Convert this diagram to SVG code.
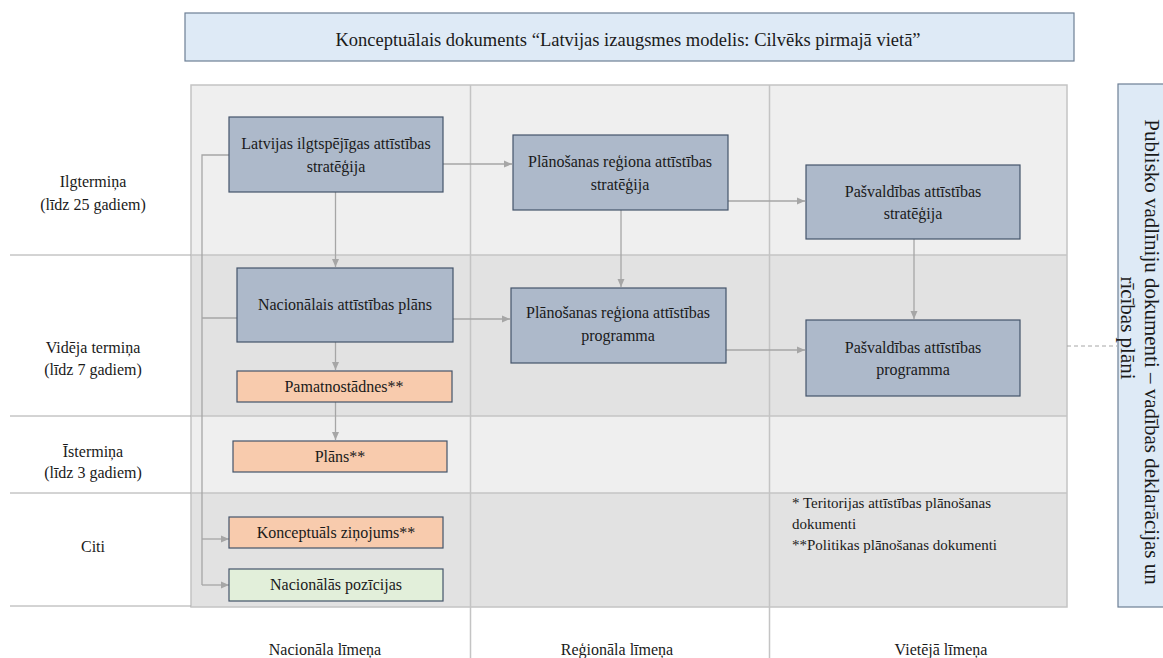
<svg xmlns="http://www.w3.org/2000/svg" width="1163" height="658" viewBox="0 0 1163 658" font-family="'Liberation Serif', 'Times New Roman', serif">
  <style>
    text { font-family: "Liberation Serif", "Times New Roman", serif; fill: #1a1a1a; }
    .t16 { font-size: 16px; }
    .t15 { font-size: 15px; }
    .mid { text-anchor: middle; }
    .band-light { fill: #efefef; }
    .band-dark { fill: #e2e2e2; }
    .grid { stroke: #c4c4c4; stroke-width: 1.5; fill: none; }
    .rule { stroke: #a8a8a8; stroke-width: 1; fill: none; }
    .doc { fill: #adb9ca; stroke: #44546a; stroke-width: 1.2; }
    .policy { fill: #f8cbad; stroke: #44546a; stroke-width: 1.2; }
    .position { fill: #e2efda; stroke: #44546a; stroke-width: 1.2; }
    .frame { fill: #deeaf6; stroke: #6d7f95; stroke-width: 1.2; }
    .link { stroke: #a6a6a6; stroke-width: 1.3; fill: none; }
    .arrow { marker-end: url(#head); }
    .dashed { stroke: #a6a6a6; stroke-width: 1; stroke-dasharray: 4 3; fill: none; }
  </style>
  <defs>
    <marker id="head" markerWidth="9" markerHeight="9" refX="8" refY="4.5" orient="auto" markerUnits="userSpaceOnUse">
      <path d="M0,1 L8,4.5 L0,8 Z" fill="#a6a6a6"/>
    </marker>
  </defs>

  <rect width="1163" height="658" fill="#ffffff"/>

  <!-- top banner -->
  <g id="banner">
    <rect class="frame" x="185" y="13" width="889" height="48"/>
    <text class="mid" x="628" y="46" style="font-size:18.5px">Konceptuālais dokuments “Latvijas izaugsmes modelis: Cilvēks pirmajā vietā”</text>
  </g>

  <!-- time-horizon bands -->
  <g id="bands">
    <rect class="band-light" x="191" y="85" width="876" height="170"/>
    <rect class="band-dark" x="191" y="255" width="876" height="161"/>
    <rect class="band-light" x="191" y="416" width="876" height="77"/>
    <rect class="band-dark" x="191" y="493" width="876" height="114"/>
    <rect class="grid" x="191" y="85" width="876" height="522"/>
    <line class="grid" x1="191" y1="255" x2="1067" y2="255"/>
    <line class="grid" x1="191" y1="416" x2="1067" y2="416"/>
    <line class="grid" x1="191" y1="493" x2="1067" y2="493"/>
    <line class="grid" x1="470.5" y1="85" x2="470.5" y2="658"/>
    <line class="grid" x1="769.5" y1="85" x2="769.5" y2="658"/>
    <line class="rule" x1="10" y1="255" x2="191" y2="255"/>
    <line class="rule" x1="10" y1="416" x2="191" y2="416"/>
    <line class="rule" x1="10" y1="493" x2="191" y2="493"/>
    <line class="rule" x1="10" y1="606" x2="191" y2="606"/>
  </g>

  <!-- row labels -->
  <g id="row-labels" class="t16">
    <text class="mid" x="93" y="187">Ilgtermiņa</text>
    <text class="mid" x="93" y="210">(līdz 25 gadiem)</text>
    <text class="mid" x="93" y="353">Vidēja termiņa</text>
    <text class="mid" x="93" y="375">(līdz 7 gadiem)</text>
    <text class="mid" x="93" y="457">Īstermiņa</text>
    <text class="mid" x="93" y="478">(līdz 3 gadiem)</text>
    <text class="mid" x="93" y="552">Citi</text>
  </g>

  <!-- column labels -->
  <g id="column-labels" class="t16">
    <text class="mid" x="325" y="655">Nacionāla līmeņa</text>
    <text class="mid" x="617" y="655">Reģionāla līmeņa</text>
    <text class="mid" x="941" y="655">Vietējā līmeņa</text>
  </g>

  <!-- connectors -->
  <g id="connectors">
    <polyline class="link" points="229,155 202,155 202,585"/>
    <line class="link" x1="202" y1="318" x2="237" y2="318"/>
    <line class="link arrow" x1="202" y1="539" x2="229" y2="539"/>
    <line class="link arrow" x1="202" y1="585" x2="229" y2="585"/>
    <line class="link arrow" x1="335.5" y1="192" x2="335.5" y2="267"/>
    <line class="link arrow" x1="335.5" y1="342" x2="335.5" y2="370"/>
    <line class="link arrow" x1="335.5" y1="402" x2="335.5" y2="440"/>
    <line class="link arrow" x1="443" y1="164" x2="512" y2="164"/>
    <line class="link arrow" x1="453" y1="319" x2="510" y2="319"/>
    <line class="link arrow" x1="621" y1="210" x2="621" y2="287"/>
    <line class="link arrow" x1="728" y1="201" x2="805" y2="201"/>
    <line class="link arrow" x1="726" y1="350" x2="805" y2="350"/>
    <line class="link arrow" x1="914" y1="239" x2="914" y2="319"/>
    <line class="dashed" x1="1067" y1="346" x2="1117" y2="346"/>
  </g>

  <!-- national level -->
  <g id="latvijas-strategija">
    <rect class="doc" x="229" y="117" width="214" height="75"/>
    <text class="t16 mid" x="336" y="149">Latvijas ilgtspējīgas attīstības</text>
    <text class="t16 mid" x="336" y="172">stratēģija</text>
  </g>
  <g id="nacionalais-plans">
    <rect class="doc" x="237" y="268" width="216" height="74"/>
    <text class="t16 mid" x="345" y="310">Nacionālais attīstības plāns</text>
  </g>
  <g id="pamatnostadnes">
    <rect class="policy" x="237" y="371" width="215" height="31"/>
    <text class="t16 mid" x="344" y="392">Pamatnostādnes**</text>
  </g>
  <g id="plans">
    <rect class="policy" x="233" y="441" width="214" height="31"/>
    <text class="t16 mid" x="340" y="462">Plāns**</text>
  </g>
  <g id="konceptuals-zinojums">
    <rect class="policy" x="229" y="517" width="214" height="31"/>
    <text class="t16 mid" x="336" y="538">Konceptuāls ziņojums**</text>
  </g>
  <g id="nacionalas-pozicijas">
    <rect class="position" x="229" y="569" width="214" height="32"/>
    <text class="t16 mid" x="336" y="590">Nacionālās pozīcijas</text>
  </g>

  <!-- regional level -->
  <g id="regiona-strategija">
    <rect class="doc" x="513" y="135" width="215" height="75"/>
    <text class="t16 mid" x="620" y="167">Plānošanas reģiona attīstības</text>
    <text class="t16 mid" x="620" y="190">stratēģija</text>
  </g>
  <g id="regiona-programma">
    <rect class="doc" x="511" y="288" width="215" height="75"/>
    <text class="t16 mid" x="618" y="318">Plānošanas reģiona attīstības</text>
    <text class="t16 mid" x="618" y="341">programma</text>
  </g>

  <!-- local level -->
  <g id="pasvaldibas-strategija">
    <rect class="doc" x="806" y="165" width="214" height="74"/>
    <text class="t16 mid" x="913" y="197">Pašvaldības attīstības</text>
    <text class="t16 mid" x="913" y="219">stratēģija</text>
  </g>
  <g id="pasvaldibas-programma">
    <rect class="doc" x="806" y="320" width="214" height="76"/>
    <text class="t16 mid" x="913" y="353">Pašvaldības attīstības</text>
    <text class="t16 mid" x="913" y="375">programma</text>
  </g>

  <!-- legend -->
  <g id="legend" class="t15">
    <text x="792" y="508">* Teritorijas attīstības plānošanas</text>
    <text x="792" y="529">dokumenti</text>
    <text x="792" y="550">**Politikas plānošanas dokumenti</text>
  </g>

  <!-- side frame -->
  <g id="publiskie-dokumenti">
    <rect class="frame" x="1118" y="84" width="60" height="523"/>
    <text transform="translate(1145,352) rotate(90)" class="mid" style="font-size:21px">Publisko vadlīniju dokumenti – vadības deklarācijas un</text>
    <text transform="translate(1121,328) rotate(90)" class="mid" style="font-size:21px">rīcības plāni</text>
  </g>
</svg>
